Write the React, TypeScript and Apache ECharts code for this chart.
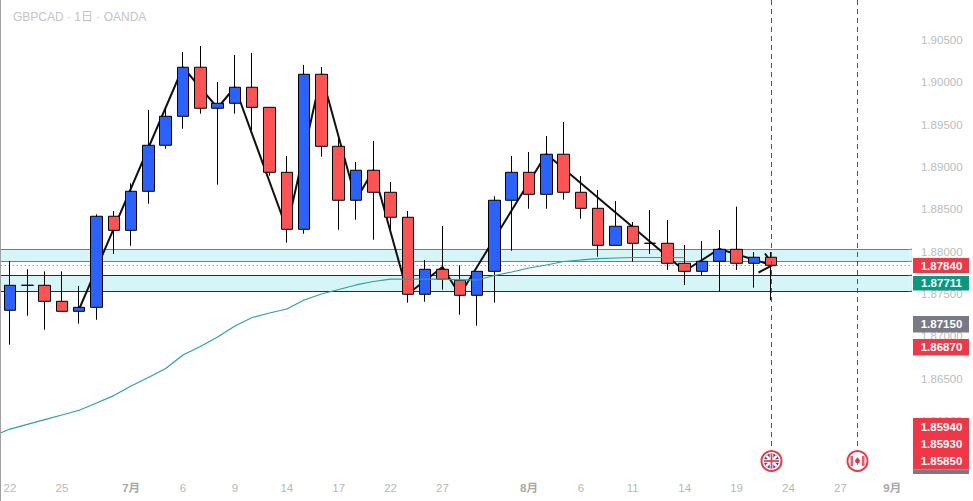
import React, { useEffect, useRef } from "react";
import * as echarts from "echarts";

const titleText = "GBPCAD · 1日 · OANDA";
// index 0 is a blank slot left of the first bar, so the first candle sits fully inside the view
const xTickLabels = ["", "22", "", "", "25", "", "", "", "7月", "", "", "6", "", "", "9", "", "", "14", "", "", "17", "", "", "22", "", "", "27", "", "", "", "", "8月", "", "", "6", "", "", "11", "", "", "14", "", "", "19", "", "", "24", "", "", "27", "", "", "9月", ""];
const yTickValues = [1.86, 1.865, 1.87, 1.875, 1.88, 1.885, 1.89, 1.895, 1.9, 1.905];
const yMin = 1.854;
const yMax = 1.90972;

const opens = [1.87309, 1.87604, 1.87604, 1.87415, 1.87297, 1.87344, 1.88419, 1.88253, 1.88714, 1.89257, 1.89599, 1.90178, 1.89694, 1.89753, 1.89942, 1.89705, 1.88938, 1.88265, 1.90095, 1.89245, 1.88608, 1.88962, 1.88702, 1.88407, 1.87498, 1.87793, 1.87663, 1.87486, 1.87769, 1.88608, 1.88938, 1.88678, 1.89151, 1.88702, 1.88513, 1.88076, 1.88301, 1.881, 1.881, 1.87864, 1.87769, 1.87887, 1.88029, 1.87864, 1.87935];
const closes = [1.87604, 1.87604, 1.87415, 1.87297, 1.87344, 1.88419, 1.88253, 1.88714, 1.89257, 1.89599, 1.90178, 1.89694, 1.89753, 1.89942, 1.89705, 1.88938, 1.88265, 1.90095, 1.89245, 1.88608, 1.88962, 1.88702, 1.88407, 1.87498, 1.87793, 1.87675, 1.87486, 1.87769, 1.88608, 1.88938, 1.88678, 1.89151, 1.88702, 1.88513, 1.88076, 1.88301, 1.881, 1.881, 1.87864, 1.87769, 1.87887, 1.88029, 1.87864, 1.87935, 1.8784];
const lows = [1.86903, 1.87245, 1.8708, 1.87297, 1.87151, 1.87198, 1.87974, 1.88071, 1.88567, 1.89217, 1.89453, 1.8963, 1.88792, 1.8963, 1.89437, 1.88898, 1.88107, 1.88213, 1.89122, 1.8826, 1.88378, 1.88142, 1.88257, 1.87399, 1.8741, 1.87552, 1.87257, 1.87127, 1.87399, 1.88012, 1.88508, 1.88508, 1.88615, 1.8839, 1.87942, 1.88076, 1.87883, 1.87974, 1.87785, 1.87608, 1.87726, 1.87533, 1.87785, 1.87576, 1.87427];
const highs = [1.87891, 1.87793, 1.87769, 1.87769, 1.87596, 1.88442, 1.88481, 1.88808, 1.89674, 1.89697, 1.90358, 1.90429, 1.90004, 1.90323, 1.90347, 1.89705, 1.89131, 1.90205, 1.90181, 1.89331, 1.8906, 1.89308, 1.88824, 1.88481, 1.87903, 1.88304, 1.8784, 1.87769, 1.88655, 1.89131, 1.89178, 1.89367, 1.89532, 1.88894, 1.88729, 1.88599, 1.88351, 1.88493, 1.88375, 1.8808, 1.88127, 1.88257, 1.88532, 1.87997, 1.87997];

const emaValues = [1.85825, 1.85907, 1.85963, 1.86018, 1.86073, 1.86129, 1.86214, 1.86302, 1.86415, 1.86515, 1.86622, 1.86781, 1.86881, 1.86994, 1.87123, 1.87224, 1.87277, 1.87324, 1.8743, 1.87501, 1.87554, 1.87608, 1.87649, 1.87678, 1.87678, 1.87678, 1.87676, 1.87667, 1.87667, 1.8772, 1.87761, 1.87808, 1.87844, 1.87885, 1.87903, 1.8792, 1.87926, 1.87932, 1.87932, 1.87932, 1.87929];

const zigzagBars = [4, 10, 12, 13, 16, 18, 20, 21, 23, 25, 26, 31, 39, 41, 44];
const zigzagPrices = [1.87324, 1.90178, 1.89697, 1.89945, 1.88269, 1.90099, 1.88611, 1.88965, 1.87501, 1.8782, 1.8749, 1.89154, 1.87773, 1.88033, 1.87844];

const upperZone = [1.88029, 1.87887];
const lowerZone = [1.87722, 1.87533];
const lastPrice = 1.8784;

const priceTagTexts = ["1.87840", "1.87711", "1.87150", "1.86870", "1.85940", "1.85930", "1.85850"];
const priceTagColors = ["#f23645", "#089981", "#787b86", "#f23645", "#f23645", "#f23645", "#f23645"];
const priceTagTops = [258, 276, 316, 339, 418, 435, 452];
const priceTagBottoms = [273, 290.5, 332.5, 355.5, 435, 452, 469.5];

const FONT = '"Liberation Sans", "Noto Sans CJK JP", sans-serif';
const GRID_LEFT = -7.3;
const GRID_WIDTH = 916.9;
const GRID_HEIGHT = 472;
const ZONE_FILL = "#d6f5f6";
const TEAL = "#2f9e8f";
const DARK = "#2a2e39";

const priceToY = (v: number) => (GRID_HEIGHT * (yMax - v)) / (yMax - yMin);

function ukFlag(cx: number, cy: number) {
  const d = 5.2;
  const seg = (x1: number, y1: number, x2: number, y2: number, c: string, w: number) => ({
    type: "line", shape: { x1, y1, x2, y2 }, style: { stroke: c, lineWidth: w }, z: 12,
  });
  return {
    type: "group", x: cx, y: cy, children: [
      { type: "circle", shape: { cx: 0, cy: 0, r: 10 }, style: { fill: "#fff", stroke: "#f23645", lineWidth: 2 }, z: 12 },
      { type: "circle", shape: { cx: 0, cy: 0, r: 7.5 }, style: { fill: "#2250a6" }, z: 12 },
      seg(-d, -d, d, d, "#fff", 2.4), seg(-d, d, d, -d, "#fff", 2.4),
      seg(-7.5, 0, 7.5, 0, "#fff", 3.6), seg(0, -7.5, 0, 7.5, "#fff", 3.6),
      seg(-7.5, 0, 7.5, 0, "#e8404f", 1.8), seg(0, -7.5, 0, 7.5, "#e8404f", 1.8),
    ],
  };
}

function caFlag(cx: number, cy: number) {
  return {
    type: "group", x: cx, y: cy, children: [
      { type: "circle", shape: { cx: 0, cy: 0, r: 10 }, style: { fill: "#fff", stroke: "#f23645", lineWidth: 2 }, z: 12 },
      { type: "rect", shape: { x: -7, y: -5, width: 2.6, height: 10 }, style: { fill: "#ef5a66" }, z: 12 },
      { type: "rect", shape: { x: 4.4, y: -5, width: 2.6, height: 10 }, style: { fill: "#ef5a66" }, z: 12 },
      { type: "polygon", shape: { points: [[0, -3.8], [2.6, -0.6], [1.6, 2], [-1.6, 2], [-2.6, -0.6]] }, style: { fill: "#e8303f" }, z: 12 },
      { type: "line", shape: { x1: 0, y1: 2, x2: 0, y2: 3.8 }, style: { stroke: "#e8303f", lineWidth: 1 }, z: 12 },
    ],
  };
}

// the zones reach a little past the last axis slot, up to the price scale
function zoneTail(zone: number[], stroke: string) {
  const x0 = GRID_LEFT + GRID_WIDTH;
  const yTop = priceToY(zone[0]);
  const yBot = priceToY(zone[1]);
  return [
    { type: "rect", shape: { x: x0, y: yTop, width: 912 - x0, height: yBot - yTop }, style: { fill: ZONE_FILL }, z: 1 },
    { type: "line", shape: { x1: x0, y1: yTop, x2: 912, y2: yTop }, style: { stroke, lineWidth: 1 }, z: 1 },
    { type: "line", shape: { x1: x0, y1: yBot, x2: 912, y2: yBot }, style: { stroke, lineWidth: 1 }, z: 1 },
  ];
}

export default function App() {
  const ref = useRef<HTMLDivElement>(null);
  useEffect(() => {
    document.body.style.margin = "0";
    const chart = echarts.init(ref.current!, undefined, { renderer: "svg" });

    const candleData: any[] = ["-"];
    opens.forEach((o, i) => candleData.push([o, closes[i], lows[i], highs[i]]));

    const emaData: any[] = emaValues.slice();
    const zigzagData: any[] = xTickLabels.map(() => null);
    zigzagBars.forEach((b, i) => { zigzagData[b + 1] = zigzagPrices[i]; });

    const tags = priceTagTexts.map((t, i) => ({
      type: "group",
      children: [
        { type: "rect", shape: { x: 913, y: priceTagTops[i], width: 56, height: priceTagBottoms[i] - priceTagTops[i] }, style: { fill: priceTagColors[i] }, z: 20 },
        { type: "text", x: 941.5, y: (priceTagTops[i] + priceTagBottoms[i]) / 2, style: { text: t, fill: "#fff", font: `bold 11.5px ${FONT}`, align: "center", verticalAlign: "middle" }, z: 21 },
      ],
    }));

    const dashed = [771.5, 857.5].map((x) => ({
      type: "line", shape: { x1: x, y1: 0, x2: x, y2: 449 },
      style: { stroke: "#555", lineWidth: 1, lineDash: [5, 4] }, z: 6,
    }));

    chart.setOption({
      animation: false,
      backgroundColor: "#fff",
      title: { text: titleText, left: 8, top: 6, textStyle: { color: "#c4c4c4", fontSize: 12, fontWeight: "normal", fontFamily: FONT } },
      grid: { left: GRID_LEFT, top: 0, width: GRID_WIDTH, height: GRID_HEIGHT, containLabel: false, outerBoundsMode: "none" },
      xAxis: {
        type: "category", data: xTickLabels, boundaryGap: false,
        axisLine: { show: false }, axisTick: { show: false }, splitLine: { show: false },
        axisLabel: {
          interval: 0, margin: 10, fontSize: 11.5, fontFamily: FONT, color: "#b8b8b8", showMinLabel: true, showMaxLabel: true,
          formatter: (v: string) => (v.includes("月") ? `{m|${v}}` : v),
          rich: { m: { fontSize: 11.5, fontWeight: "bold", color: "#a8a8a8", fontFamily: FONT } },
        },
      },
      yAxis: {
        type: "value", position: "right", min: yMin, max: yMax, scale: true,
        axisLine: { show: false }, axisTick: { show: false }, splitLine: { show: false },
        axisLabel: {
          customValues: yTickValues, margin: 11.4, fontSize: 11.5, fontFamily: FONT, color: "#bcbcbc",
          formatter: (v: number) => v.toFixed(5),
        },
      },
      series: [
        {
          type: "line", name: "zigzag", data: zigzagData, connectNulls: true, showSymbol: false, symbol: "none", z: 2,
          lineStyle: { color: "#111", width: 2 },
          markArea: {
            silent: true, z: 1,
            itemStyle: { color: ZONE_FILL },
            data: [
              [{ yAxis: upperZone[0] }, { yAxis: upperZone[1] }],
              [{ yAxis: lowerZone[0] }, { yAxis: lowerZone[1] }],
            ],
          },
          markLine: {
            silent: true, z: 1, symbol: "none", label: { show: false }, precision: 5,
            data: [
              { yAxis: upperZone[0], lineStyle: { color: TEAL, width: 1, type: "solid" } },
              { yAxis: upperZone[1], lineStyle: { color: TEAL, width: 1, type: "solid" } },
              { yAxis: lowerZone[0], lineStyle: { color: DARK, width: 1, type: "solid" } },
              { yAxis: lowerZone[1], lineStyle: { color: DARK, width: 1, type: "solid" } },
              { yAxis: lastPrice, lineStyle: { color: "#f23645", width: 1, type: [1, 3] } },
            ],
          },
        },
        {
          type: "candlestick", name: "GBPCAD", data: candleData, barWidth: 12, z: 3,
          itemStyle: { color: "#2962ff", color0: "#ff5252", borderColor: "#000", borderColor0: "#000", borderWidth: 1 },
        },
        {
          type: "line", name: "EMA", data: emaData, showSymbol: false, symbol: "none", z: 5,
          lineStyle: { color: "#26a69a", width: 1.2, opacity: 1 },
        },
      ],
      graphic: [
        ...zoneTail(upperZone, TEAL),
        ...zoneTail(lowerZone, DARK),
        { type: "rect", shape: { x: 0, y: 0, width: 1, height: 501 }, style: { fill: "#a0a0a0" }, z: 30 },
        { type: "polyline", shape: { points: [[758.5, 272.5], [773, 265], [765, 253.5]] }, style: { stroke: "#111", fill: "none", lineWidth: 2 }, z: 2 },
        ...dashed,
        ukFlag(771.5, 461),
        caFlag(857.5, 461),
        { type: "rect", shape: { x: 913, y: 469.5, width: 56, height: 4.5 }, style: { fill: "#787b86" }, z: 19 },
        ...tags,
      ],
    });
    return () => chart.dispose();
  }, []);
  return <div ref={ref} style={{ width: 973, height: 501 }} />;
}
